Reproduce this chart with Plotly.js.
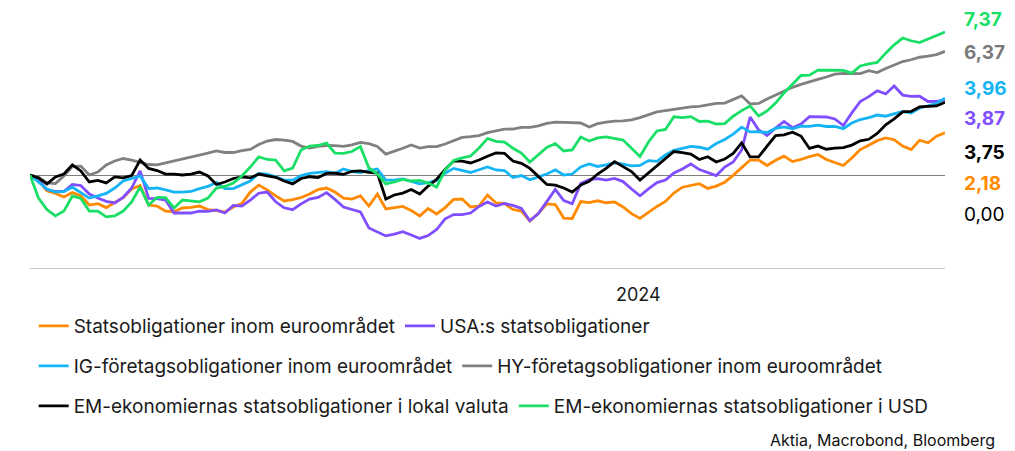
<!DOCTYPE html>
<html>
<head>
<meta charset="utf-8">
<script src="https://cdn.plot.ly/plotly-3.0.1.min.js"></script>
<style>html,body{margin:0;padding:0;background:#fff;}#chart{width:1015px;height:451px;}</style>
</head>
<body>
<div id="chart"></div>
<script>
// Time axis: observations every 5 days from 2023-07-08 to 2024-12-29
const startDate = '2023-07-08';
const stepDays = 5;
const nPoints = 109;
const dates = [];
(function () {
  const p = startDate.split('-').map(Number);
  for (let i = 0; i < nPoints; i++) {
    const d = new Date(Date.UTC(p[0], p[1] - 1, p[2] + stepDays * i));
    dates.push(d.toISOString().slice(0, 10));
  }
})();

const tickDates = ['2024-07-01'];
const tickLabels = ['2024'];

const seriesNames = [
  'Statsobligationer inom euroområdet',
  'USA:s statsobligationer',
  'IG-företagsobligationer inom euroområdet',
  'HY-företagsobligationer inom euroområdet',
  'EM-ekonomiernas statsobligationer i lokal valuta',
  'EM-ekonomiernas statsobligationer i USD'
];

const euroGov = [0,-0.26,-0.82,-0.95,-1.13,-0.90,-1.08,-1.55,-1.48,-1.68,
  -1.42,-1.17,-0.72,-0.54,-1.55,-1.60,-1.86,-1.88,-1.70,-1.67,
  -1.60,-1.78,-1.83,-1.91,-1.65,-1.47,-0.88,-0.52,-0.77,-1.08,
  -1.34,-1.27,-1.16,-0.98,-0.75,-0.67,-0.88,-1.19,-1.24,-1.08,
  -1.60,-0.98,-1.75,-1.67,-1.62,-1.83,-2.11,-1.73,-2.01,-1.68,
  -1.26,-1.24,-1.65,-1.60,-1.03,-1.44,-1.46,-1.78,-1.86,-2.37,
  -1.98,-1.49,-1.52,-2.22,-2.24,-1.37,-1.42,-1.33,-1.43,-1.39,
  -1.65,-1.99,-2.24,-1.93,-1.62,-1.36,-0.93,-0.63,-0.52,-0.45,
  -0.69,-0.57,-0.37,-0.02,0.38,0.77,0.77,0.49,0.76,0.97,
  0.69,0.80,0.95,1.06,0.80,0.63,0.49,0.88,1.31,1.53,
  1.77,1.91,1.82,1.49,1.31,1.79,1.66,2.00,2.18];

const usGov = [0,-0.28,-0.75,-0.85,-0.85,-0.49,-0.54,-0.98,-1.19,-1.36,
  -1.44,-1.15,-0.67,0.21,-1.21,-1.22,-1.29,-1.96,-1.95,-1.96,
  -1.86,-1.87,-1.80,-1.96,-1.57,-1.60,-1.29,-0.94,-0.88,-1.38,
  -1.69,-1.79,-1.49,-1.24,-1.16,-0.91,-1.26,-1.65,-1.78,-1.90,
  -2.73,-2.92,-3.14,-3.05,-2.92,-3.09,-3.27,-3.12,-2.81,-2.26,
  -2.04,-2.04,-1.96,-1.62,-1.39,-1.60,-1.47,-1.57,-1.72,-2.36,
  -1.99,-1.37,-0.74,-1.32,-1.48,-0.44,-0.24,-0.19,-0.26,-0.18,
  -0.34,-0.72,-1.07,-0.72,-0.39,-0.26,0.10,0.31,0.57,0.28,
  0.13,-0.03,0.41,0.67,1.29,2.99,2.32,2.04,2.42,2.76,
  2.44,2.63,3.01,3.00,2.99,2.89,2.55,3.20,3.79,4.04,
  4.34,4.18,4.59,4.12,4.05,4.06,3.79,3.80,3.87];

const igCorp = [0,-0.36,-0.72,-0.88,-0.85,-0.63,-0.90,-1.19,-1.08,-0.95,
  -0.67,-0.31,-0.18,-0.05,-0.70,-0.67,-0.77,-0.88,-0.88,-0.85,
  -0.70,-0.59,-0.38,-0.70,-0.70,-0.50,-0.31,0.08,0.04,-0.09,
  -0.26,-0.27,-0.03,0.08,0.14,0.17,0.09,0.31,0.17,0.13,
  0.23,0.31,-0.26,-0.26,-0.20,-0.35,-0.46,-0.39,-0.28,0.09,
  0.34,0.24,0.13,0.27,0.41,0.26,0.23,-0.13,-0.03,-0.25,
  -0.08,0.05,0.27,0,0.05,0.41,0.57,0.44,0.52,0.63,
  0.56,0.47,0.49,0.74,0.70,1.03,1.27,1.37,1.47,1.43,
  1.33,1.62,1.83,2.11,2.47,2.22,2.23,2.19,2.40,2.48,
  2.38,2.52,2.51,2.57,2.50,2.51,2.39,2.68,2.86,2.96,
  3.09,3.03,3.16,3.28,3.20,3.45,3.57,3.69,3.96];

const hyCorp = [0,-0.10,-0.41,-0.44,-0.05,0.44,0.46,0,0.15,0.52,
  0.72,0.85,0.77,0.64,0.54,0.52,0.62,0.70,0.82,0.90,
  1.01,1.13,1.24,1.16,1.16,1.26,1.32,1.57,1.75,1.83,
  1.80,1.73,1.49,1.39,1.48,1.52,1.51,1.48,1.55,1.68,
  1.62,1.47,1.08,1.22,1.38,1.55,1.39,1.46,1.46,1.60,
  1.78,1.94,1.98,2.03,2.18,2.27,2.36,2.37,2.45,2.46,
  2.53,2.66,2.72,2.71,2.70,2.68,2.47,2.65,2.73,2.78,
  2.79,2.84,2.96,3.09,3.25,3.32,3.39,3.46,3.51,3.54,
  3.61,3.69,3.71,3.90,4.08,3.66,3.69,3.92,4.12,4.32,
  4.52,4.67,4.82,4.93,5.05,5.20,5.24,5.22,5.23,5.38,
  5.28,5.49,5.69,5.85,5.94,6.07,6.13,6.21,6.37];

const emLocal = [0,-0.15,-0.46,-0.10,0.05,0.52,0.21,-0.36,-0.28,-0.41,
  -0.10,-0.15,-0.03,0.77,0.34,0.23,0.05,0.05,0,0.05,
  0.15,-0.05,-0.49,-0.36,-0.18,-0.10,-0.15,0.05,-0.05,-0.12,
  -0.31,-0.46,-0.18,-0.09,-0.13,0.08,0.09,0.03,0.19,0.21,
  0.13,0.10,-1.24,-1.03,-0.93,-0.75,-0.98,-0.57,-0.22,0.28,
  0.72,0.72,0.62,0.77,0.97,1.14,1.12,0.72,0.60,0.34,
  -0.07,-0.49,-0.52,-0.67,-0.88,-0.52,-0.32,0.05,0.34,0.69,
  0.43,0.18,-0.26,0.11,0.44,0.85,1.21,1.15,1.08,0.80,
  0.94,0.67,0.82,1.11,1.65,0.93,0.93,1.49,2.03,2.07,
  2.21,2.01,1.37,1.49,1.33,1.39,1.41,1.54,1.76,1.84,
  2.14,2.59,2.89,3.25,3.28,3.51,3.54,3.56,3.75];

const emUsd = [0,-1.19,-1.78,-2.11,-1.86,-1.08,-1.21,-1.86,-1.86,-2.16,
  -2.11,-1.86,-1.39,-0.62,-1.55,-1.16,-1.17,-1.70,-1.29,-1.34,
  -1.38,-1.19,-0.67,-0.59,-0.41,-0.05,0.41,0.94,0.80,0.77,
  0.21,0.36,1.29,1.49,1.52,1.65,1.13,1.11,1.21,1.47,
  0.36,0.05,-0.46,-0.36,-0.23,-0.31,-0.28,-0.41,-0.62,0.26,
  0.75,0.88,0.98,1.39,1.88,1.73,1.70,1.38,1.13,0.67,
  1.03,1.42,1.62,1.24,1.29,1.96,1.75,1.91,1.96,1.88,
  1.80,1.38,0.95,1.70,2.27,2.35,3.00,2.96,3.01,2.76,
  2.78,2.63,2.65,3.03,3.32,3.56,3.04,3.30,3.71,4.23,
  4.69,5.13,5.15,5.41,5.40,5.41,5.39,5.25,5.62,5.73,
  5.80,6.28,6.71,7.06,6.92,6.83,7.01,7.20,7.37];

const sourceText = 'Aktia, Macrobond, Bloomberg';
const zeroLabel = '0,00';

const seriesValues = [euroGov, usGov, igCorp, hyCorp, emLocal, emUsd];
const colors = ['#ff8a00', '#7f4fff', '#14b4f5', '#808080', '#000000', '#19df66'];
const legendIds = ['legend', 'legend', 'legend2', 'legend2', 'legend3', 'legend3'];

const traces = seriesValues.map((vals, i) => ({
  type: 'scatter', mode: 'lines', x: dates, y: vals, name: seriesNames[i],
  line: {color: colors[i], width: 2.8}, legend: legendIds[i], hoverinfo: 'skip'
}));

// Right-hand end-value labels, sorted by last value (highest on top)
const order = [0,1,2,3,4,5].sort((a, b) => seriesValues[b][seriesValues[b].length - 1] - seriesValues[a][seriesValues[a].length - 1]);
const labelYs = [0.943, 0.8175, 0.684, 0.570, 0.441, 0.323];
const fmt = v => v.toFixed(2).replace('.', ',');
const annotations = order.map((si, k) => ({
  xref: 'paper', yref: 'paper', x: 1.0186, y: labelYs[k], xanchor: 'left', yanchor: 'middle',
  text: '<b>' + fmt(seriesValues[si][seriesValues[si].length - 1]) + '</b>', showarrow: false,
  font: {size: 19, color: colors[si] === '#808080' ? '#7a7a7a' : colors[si]}
}));
annotations.push({xref: 'paper', yref: 'paper', x: 1.0186, y: 0.205, xanchor: 'left', yanchor: 'middle',
  text: zeroLabel, showarrow: false, font: {size: 19, color: '#000'}});
annotations.push({xref: 'paper', yref: 'paper', x: 1.0568, y: -0.654, xanchor: 'right', yanchor: 'middle',
  text: sourceText, showarrow: false, font: {size: 16, color: '#111'}});

const legendBase = {orientation: 'h', x: 0.004, xanchor: 'left', yanchor: 'middle',
  font: {size: 19, color: '#1a1a1a'}, bgcolor: 'rgba(0,0,0,0)', traceorder: 'normal'};

const layout = {
  width: 1015, height: 451,
  margin: {l: 30, r: 70, t: 5, b: 183},
  paper_bgcolor: '#fff', plot_bgcolor: '#fff',
  font: {family: 'Inter, Roboto, sans-serif', color: '#1a1a1a'},
  showlegend: true,
  xaxis: {type: 'date', range: [dates[0], dates[dates.length - 1]], showgrid: false, zeroline: false,
    showline: true, linecolor: '#c8c8c8', linewidth: 1, tickmode: 'array', tickvals: tickDates,
    ticktext: tickLabels, ticks: '', ticklabelstandoff: 10, tickfont: {size: 18, color: '#1a1a1a'}, fixedrange: true},
  yaxis: {range: [-4.794, 8.763], showgrid: false, showticklabels: false, zeroline: true,
    zerolinecolor: '#7f7f7f', zerolinewidth: 1, showline: false, fixedrange: true},
  legend: Object.assign({}, legendBase, {y: -0.2205}),
  legend2: Object.assign({}, legendBase, {y: -0.3726}),
  legend3: Object.assign({}, legendBase, {y: -0.5247}),
  annotations: annotations
};

Plotly.newPlot('chart', traces, layout, {displayModeBar: false, staticPlot: true});
</script>
</body>
</html>
